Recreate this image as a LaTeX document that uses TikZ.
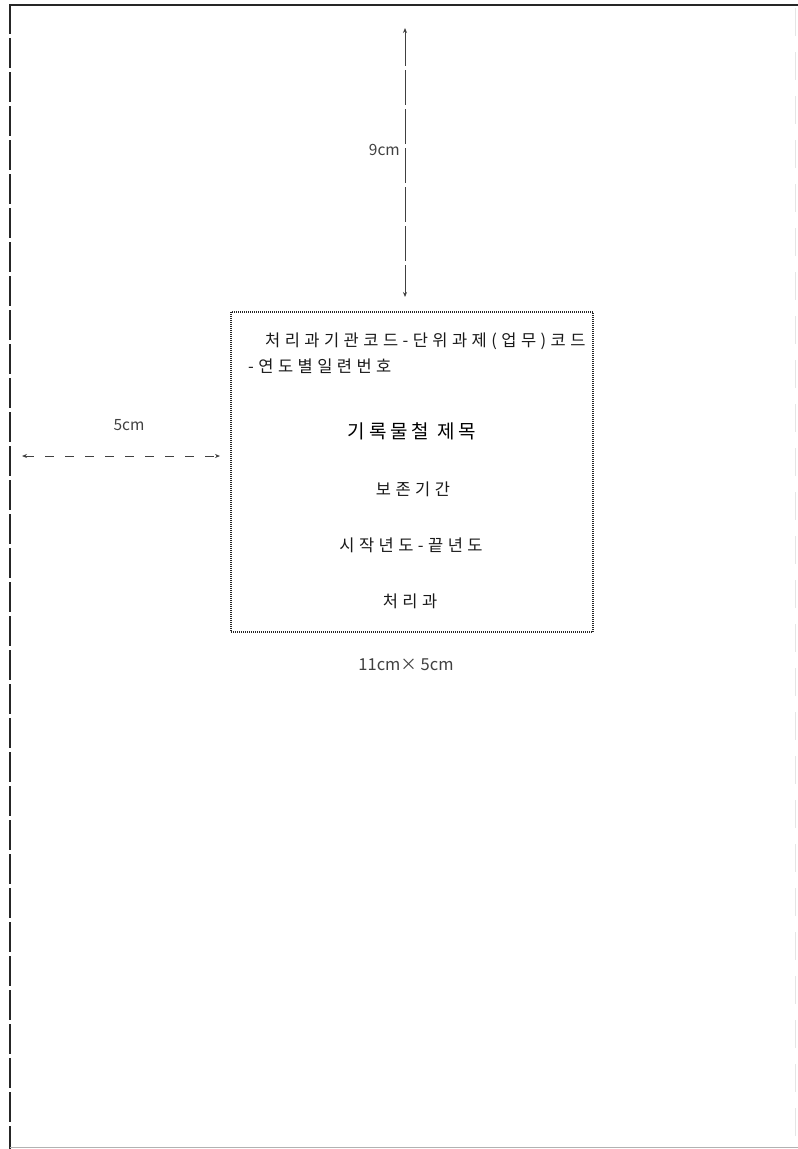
\documentclass[tikz,border=0pt]{standalone}
\usepackage{fontspec}
\usetikzlibrary{arrows.meta}
\newfontfamily\kr[LetterSpace=27]{Noto Sans CJK KR}
\newfontfamily\krt[LetterSpace=20]{Noto Sans CJK KR}
\newfontfamily\krl{Noto Sans CJK KR}
\tikzset{
  txt/.style={font=\kr\fontsize{16.5}{18}\selectfont, text=black!90, inner sep=0pt},
  lbl/.style={font=\krl\fontsize{15.5}{17}\selectfont, text=black!75, inner sep=0pt},
  dim/.style={line width=1pt, draw=black!75, {Stealth[length=5pt,width=4pt]}-{Stealth[length=5pt,width=4pt]}},
}
\begin{document}
\begin{tikzpicture}[x=1pt,y=-1pt]
\useasboundingbox (0,0) rectangle (798,1149);
% page edges
\draw[line width=2.5pt, draw=black!85] (9,5) -- (798,5);
\draw[line width=2pt, draw=black!85, dash pattern=on 30pt off 4pt] (10,4) -- (10,1149);
\draw[line width=1pt, draw=black!10, dash pattern=on 28pt off 16pt] (795,8) -- (795,1149);
\draw[line width=1pt, draw=black!30] (10,1147.5) -- (798,1147.5);
% label box
\node[draw=black!85, line width=1.3pt, dash pattern=on 1pt off 1pt, minimum width=362pt, minimum height=320pt, inner sep=0pt] (box) at (412,472) {};
\node[txt, anchor=west] (code1) at (265,341) {처리과기관코드-단위과제(업무)코드};
\node[txt, anchor=west] (code2) at (248,366) {-연도별일련번호};
\node[txt, font=\krt\fontsize{19}{21}\selectfont, text=black] (title) at (412,431) {기록물철 제목};
\node[txt] (period) at (413,489) {보존기간};
\node[txt] (years) at (411,545) {시작년도-끝년도};
\node[txt] (dept) at (410,601) {처리과};
\node[lbl, font=\krl\fontsize{16.5}{18}\selectfont] (size) at (406,665) {11cm× 5cm};
% vertical dimension
\coordinate (vtop) at (405,28);
\coordinate (vbot) at (405,297);
\draw[dim, dash pattern=on 35pt off 4pt] (vtop) -- (vbot);
\node[lbl, anchor=east] (nine) at (400,150) {9cm};
% horizontal dimension
\coordinate (hl) at (22,456);
\coordinate (hr) at (220,456);
\draw[dim, dash pattern=on 9pt off 11pt] (hl) -- (hr);
\node[lbl] (five) at (129,425) {5cm};
\end{tikzpicture}
\end{document}
